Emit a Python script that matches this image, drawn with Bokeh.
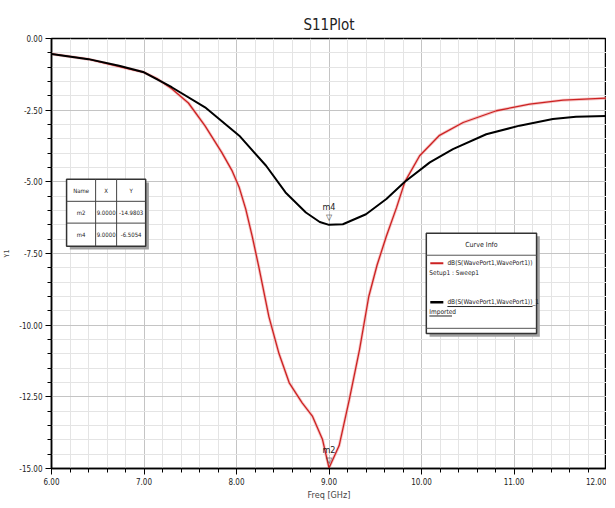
from bokeh.plotting import figure
from bokeh.models import SingleIntervalTicker, PrintfTickFormatter
from bokeh.core.properties import value
from bokeh.embed import file_html
from bokeh.resources import INLINE

# ---- data ----
freq_sim = [6.0, 6.4, 6.8, 7.0, 7.15, 7.3, 7.48, 7.66, 7.84, 7.95, 8.03, 8.1, 8.17, 8.24, 8.35, 8.46,
            8.57, 8.71, 8.82, 8.93, 9.0, 9.11, 9.22, 9.33, 9.43, 9.52, 9.62, 9.73, 9.82,
            9.98, 10.19, 10.45, 10.81, 11.17, 11.53, 12.0]
s11_sim = [-0.54, -0.72, -1.03, -1.18, -1.42, -1.75, -2.25, -3.05, -3.97, -4.6, -5.2, -5.95, -6.9, -7.95,
           -9.7, -11.0, -12.01, -12.71, -13.17, -13.99, -14.98, -14.2, -12.59, -10.85, -9.0,
           -7.9, -6.9, -5.9, -5.0, -4.09, -3.39, -2.93, -2.52, -2.29, -2.15, -2.08]

freq_imp = [6.0, 6.4, 6.73, 7.0, 7.3, 7.66, 8.03, 8.32, 8.53, 8.75, 8.9, 9.0, 9.15, 9.4,
            9.62, 9.82, 10.09, 10.34, 10.7, 11.06, 11.42, 11.67, 12.0]
s11_imp = [-0.54, -0.72, -0.95, -1.18, -1.70, -2.40, -3.39, -4.44, -5.37, -6.07, -6.4, -6.5,
           -6.48, -6.13, -5.6, -5.0, -4.32, -3.86, -3.34, -3.04, -2.81, -2.73, -2.70]

marker_names = ["m2", "m4"]
marker_x = [9.0, 9.0]
marker_y = [-14.9803, -6.5054]
table_header = ["Name", "X", "Y"]
table_x_text = ["9.0000", "9.0000"]
table_y_text = ["-14.9803", "-6.5054"]

legend_title = "Curve Info"
legend_sim = "dB(S(WavePort1,WavePort1))"
legend_sim_sub = "Setup1 : Sweep1"
legend_imp = "dB(S(WavePort1,WavePort1))_1"
legend_imp_sub = "Imported"

FONT = "'DejaVu Sans Condensed', 'Liberation Sans', sans-serif"

p = figure(frame_width=555, frame_height=430, min_border_left=49, min_border_right=0,
           min_border_top=38, min_border_bottom=24, x_range=(6, 12), y_range=(-15, 0),
           output_backend="svg", toolbar_location=None, title="S11Plot",
           background_fill_color="white", border_fill_color="white")

p.title.align = "center"
p.title.text_font = FONT
p.title.text_font_size = "15px"
p.title.text_font_style = "normal"
p.title.text_color = "#222222"

p.xaxis.ticker = SingleIntervalTicker(interval=1, num_minor_ticks=5)
p.yaxis.ticker = SingleIntervalTicker(interval=2.5, num_minor_ticks=5)
for ax in (p.xaxis[0], p.yaxis[0]):
    ax.formatter = PrintfTickFormatter(format="%.2f")
    ax.major_label_text_font = FONT
    ax.major_label_text_font_size = "8px"
    ax.major_label_text_color = "#222222"
    ax.axis_line_color = "black"
    ax.axis_line_width = 1.5
    ax.major_tick_in = 0
    ax.major_tick_out = 6
    ax.minor_tick_in = 0
    ax.minor_tick_out = 4
    ax.major_tick_line_color = "black"
    ax.minor_tick_line_color = "black"
    ax.axis_label_text_font = FONT
    ax.axis_label_text_font_style = "normal"
    ax.axis_label_text_font_size = "9px"
p.xaxis.axis_label = "Freq [GHz]"
p.yaxis.axis_label = "Y1"
p.yaxis.axis_label_text_font_size = "7px"
p.xaxis.major_label_standoff = 3
p.yaxis.major_label_standoff = 3
p.xaxis.axis_label_standoff = 2

for g in (p.xgrid[0], p.ygrid[0]):
    g.grid_line_color = "#c4c4c4"
    g.minor_grid_line_color = "#e4e4e4"

p.outline_line_color = "black"
p.outline_line_width = 1.5

# curves
p.line(freq_sim, s11_sim, line_color="#f0a0a0", line_width=3.0, line_alpha=0.6)
p.line(freq_sim, s11_sim, line_color="#cc2222", line_width=1.3)
p.line(freq_imp, s11_imp, line_color="black", line_width=2)

# markers
p.text(marker_x, marker_y, text=["\u25bd", "\u25bd"], text_align="center",
       text_baseline="bottom", y_offset=-3, text_font_size="8px", text_color="#333333")
p.text(marker_x, marker_y, text=marker_names, text_align="center", text_baseline="bottom",
       y_offset=-13, text_font=value(FONT), text_font_size="9px", text_color="#222222")

# ---- marker table (layout in data coords) ----
tx = [6.163, 6.477, 6.704, 7.018]
ty = [-4.91, -5.68, -6.44, -7.25]
sdx, sdy = 0.035, 0.11
p.quad(left=[tx[0] + sdx], right=[tx[3] + sdx], top=[ty[0] - sdy], bottom=[ty[3] - sdy],
       fill_color="#a0a0a0", line_color=None)
p.quad(left=[tx[0]], right=[tx[3]], top=[ty[0]], bottom=[ty[3]], fill_color="white",
       line_color="#333333", line_width=1.5)
p.segment(x0=[tx[1], tx[2], tx[0], tx[0]], y0=[ty[0], ty[0], ty[1], ty[2]],
          x1=[tx[1], tx[2], tx[3], tx[3]], y1=[ty[3], ty[3], ty[1], ty[2]],
          line_color="#444444", line_width=1)
cx = [(tx[i] + tx[i + 1]) / 2 for i in range(3)]
cy = [(ty[i] + ty[i + 1]) / 2 for i in range(3)]
cells_x, cells_y, cells_t = [], [], []
for j, t in enumerate(table_header):
    cells_x.append(cx[j]); cells_y.append(cy[0]); cells_t.append(t)
for i in range(2):
    for j, t in enumerate([marker_names[i], table_x_text[i], table_y_text[i]]):
        cells_x.append(cx[j]); cells_y.append(cy[i + 1]); cells_t.append(t)
p.text(cells_x, cells_y, text=cells_t, text_align="center", text_baseline="middle",
       text_font=value(FONT), text_font_size="6px", text_color="#222222")

# ---- curve info box ----
lx0, lx1, ly0, ly1 = 10.052, 11.244, -6.79, -10.29
p.quad(left=[lx0 + sdx], right=[lx1 + sdx], top=[ly0 - sdy], bottom=[ly1 - sdy],
       fill_color="#a0a0a0", line_color=None)
p.quad(left=[lx0], right=[lx1], top=[ly0], bottom=[ly1], fill_color="white",
       line_color="#333333", line_width=1.5)
p.segment(x0=[lx0, lx0], y0=[-7.56, -10.11], x1=[lx1, lx1], y1=[-7.56, -10.11],
          line_color="#555555", line_width=1)
p.text([(lx0 + lx1) / 2], [-7.2], text=[legend_title], text_align="center",
       text_baseline="middle", text_font=value(FONT), text_font_size="7px", text_color="#222222")
p.segment(x0=[10.095], y0=[-7.84], x1=[10.236], y1=[-7.84], line_color="#cc2222", line_width=2)
p.segment(x0=[10.095], y0=[-9.2], x1=[10.236], y1=[-9.2], line_color="black", line_width=2.5)
p.text([10.28, 10.085, 10.28, 10.085], [-7.84, -8.17, -9.2, -9.53],
       text=[legend_sim, legend_sim_sub, legend_imp, legend_imp_sub],
       text_align="left", text_baseline="middle", text_font=value(FONT),
       text_font_size="6.5px", text_color="#222222")
p.segment(x0=[10.28, 10.085], y0=[-9.35, -9.68], x1=[11.2, 10.33], y1=[-9.35, -9.68],
          line_color="#222222", line_width=1)

open("out.html", "w").write(file_html(p, INLINE))
